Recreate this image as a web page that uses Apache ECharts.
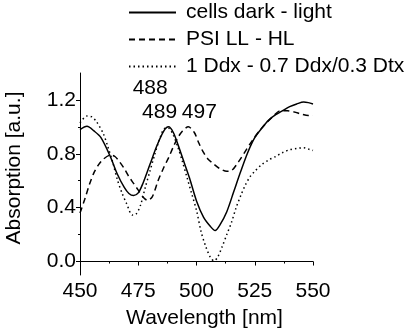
<!DOCTYPE html>
<html>
<head>
<meta charset="utf-8">
<script src="https://cdn.jsdelivr.net/npm/echarts@6/dist/echarts.min.js"></script>
<style>
  html, body { margin: 0; padding: 0; background: #fff; }
  #chart { width: 415px; height: 335px; }
</style>
</head>
<body>
<div id="chart"></div>
<script>
const chart = echarts.init(document.getElementById('chart'));

const seriesNames = ['cells dark - light', 'PSI LL - HL', '1 Ddx - 0.7 Ddx/0.3 Dtx'];

// [wavelength nm, absorption a.u.]
const cellsData = [
  [450, 0.98], [453, 1.005], [456, 0.97], [459, 0.92], [463, 0.78], [466, 0.65],
  [469, 0.55], [471, 0.505], [473, 0.49], [475, 0.51], [477, 0.58], [480, 0.72],
  [483, 0.86], [486, 0.97], [488, 1.0], [490, 0.96], [492, 0.87], [494, 0.77],
  [497, 0.62], [500, 0.45], [503, 0.33], [506, 0.26], [508, 0.23], [510, 0.27],
  [513, 0.37], [516, 0.52], [519, 0.67], [522, 0.81], [525, 0.92], [528, 0.99],
  [531, 1.05], [534, 1.09], [537, 1.12], [540, 1.15], [543, 1.17], [546, 1.185],
  [548, 1.18], [550, 1.17]
];
const psiData = [
  [450, 0.36], [452, 0.46], [454, 0.57], [456, 0.66], [458, 0.72], [460, 0.76],
  [463, 0.79], [465, 0.78], [467, 0.74], [469, 0.69], [471, 0.63], [473, 0.58],
  [475, 0.53], [477, 0.48], [479, 0.455], [481, 0.48], [483.5, 0.6], [486, 0.7],
  [488, 0.77], [490, 0.85], [492, 0.92], [494, 0.97], [496.5, 1.0], [499, 0.96],
  [501, 0.88], [503, 0.81], [505, 0.76], [507, 0.73], [510, 0.69], [513, 0.67],
  [515, 0.675], [518, 0.74], [521, 0.82], [524, 0.9], [527, 0.97], [530, 1.03],
  [533, 1.08], [536, 1.12], [539, 1.12], [542, 1.11], [545, 1.095], [548, 1.085],
  [550, 1.085]
];
const ddxData = [
  [450, 1.03], [453, 1.08], [455, 1.075], [457, 1.04], [460, 0.95], [462, 0.85],
  [464, 0.74], [466, 0.61], [468, 0.51], [470, 0.43], [472.5, 0.345], [474, 0.35],
  [476, 0.42], [478, 0.55], [480, 0.67], [482, 0.79], [484, 0.9], [486.5, 0.99],
  [488, 0.99], [490, 0.94], [492, 0.85], [494, 0.74], [496, 0.62], [498, 0.5],
  [500, 0.38], [502, 0.22], [504, 0.11], [506, 0.03], [507.5, 0.005], [509, 0.03],
  [511, 0.11], [513, 0.2], [515, 0.29], [517, 0.4], [519, 0.49], [521, 0.57],
  [523, 0.63], [525, 0.67], [528, 0.72], [531, 0.755], [534, 0.78], [537, 0.81],
  [540, 0.83], [543, 0.84], [546, 0.845], [548, 0.835], [550, 0.825]
];

// peak annotations: [wavelength, absorption] per series
const peakLabels = ['489', '497', '488'];
const peakCoords = [[488, 1.0], [496.5, 1.0], [487, 0.99]];
const peakOffsets = [[-9, -15], [11, -15], [-16, -40]];

const yLabelValues = [0, 0.4, 0.8, 1.2];
const yMinorValues = [0.2, 0.6, 1.0];

const font = 'Liberation Sans, Arial, sans-serif';
const lineTypes = ['solid', [6, 4], [1.5, 3]];
const allData = [cellsData, psiData, ddxData];

const series = seriesNames.map((name, i) => ({
  name: name,
  type: 'line',
  data: allData[i],
  smooth: 0.3,
  symbol: 'none',
  lineStyle: { color: '#000', width: 1.5, type: lineTypes[i] },
  itemStyle: { color: '#000' },
  markPoint: {
    symbol: 'circle',
    symbolSize: 0,
    data: [{ coord: peakCoords[i], value: peakLabels[i] }],
    label: {
      show: true,
      position: 'inside',
      offset: peakOffsets[i],
      color: '#000',
      fontFamily: font,
      fontSize: 21,
      formatter: '{c}'
    }
  }
}));

const option = {
  animation: false,
  textStyle: { fontFamily: font },
  legend: {
    orient: 'vertical',
    left: 123,
    top: -3,
    itemWidth: 47,
    itemHeight: 14,
    itemGap: 6,
    data: seriesNames,
    itemStyle: { opacity: 0 },
    textStyle: { color: '#000', fontSize: 21, fontFamily: font, padding: [0, 0, 0, 5] }
  },
  grid: { left: 80, right: 102, top: 73, bottom: 60, outerBoundsMode: 'none' },
  xAxis: {
    type: 'value',
    min: 450,
    max: 550,
    interval: 25,
    name: 'Wavelength [nm]',
    nameLocation: 'middle',
    nameGap: 33,
    nameTextStyle: { color: '#000', fontSize: 21, fontFamily: font, padding: [0, 0, 0, 16] },
    axisLine: { lineStyle: { color: '#000', width: 1 } },
    axisTick: { length: 4, lineStyle: { color: '#000' } },
    minorTick: { show: true, splitNumber: 2, length: 2, lineStyle: { color: '#000' } },
    axisLabel: { color: '#000', fontSize: 21, fontFamily: font, margin: 6 },
    splitLine: { show: false }
  },
  yAxis: [{
    type: 'value',
    min: -0.1,
    max: 1.4,
    name: 'Absorption [a.u.]',
    nameLocation: 'middle',
    nameGap: 55,
    nameTextStyle: { color: '#000', fontSize: 21, fontFamily: font, padding: [0, 0, 0, 12] },
    axisLine: { show: true, lineStyle: { color: '#000', width: 1 } },
    axisTick: { show: true, length: 4, customValues: yLabelValues, lineStyle: { color: '#000' } },
    axisLabel: {
      color: '#000', fontSize: 21, fontFamily: font, margin: 4,
      customValues: yLabelValues,
      formatter: v => v.toFixed(1)
    },
    splitLine: { show: false }
  }, {
    // hidden twin axis that only carries the minor ticks
    type: 'value',
    min: -0.1,
    max: 1.4,
    position: 'left',
    axisLine: { show: false },
    axisTick: { show: true, length: 2, customValues: yMinorValues, lineStyle: { color: '#000' } },
    axisLabel: { show: false, customValues: yMinorValues },
    splitLine: { show: false }
  }],
  series: series
};

chart.setOption(option);

window.addEventListener('resize', () => {
  chart.resize();
});
</script>
</body>
</html>
